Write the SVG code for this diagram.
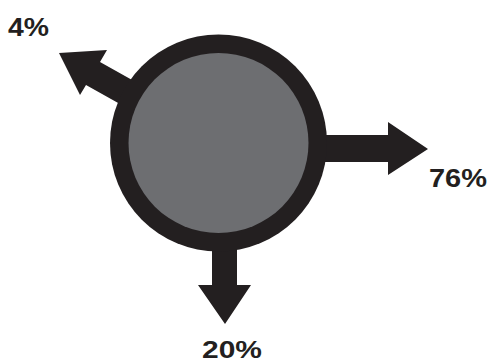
<svg xmlns="http://www.w3.org/2000/svg" width="491" height="363" viewBox="0 0 491 363">
<style>
.dk{fill:#231f20}
.lbl{font-family:"Liberation Sans",Arial,sans-serif;font-weight:bold;font-size:26px;fill:#231f20}
</style>
<rect width="491" height="363" fill="#ffffff"/>
<g id="connectors">
<polygon class="dk" points="59,53 107,50 100,62 150,90 136,113 86,85 80,95"/>
<polygon class="dk" points="300,135 388,135 388,122 428,149 388,175 388,162 300,162"/>
<polygon class="dk" points="212,230 237,230 237,285 251,285 225,324 198,285 212,285"/>
</g>
<g id="node-circle">
<circle class="dk" cx="218.5" cy="143" r="108.5"/>
<circle cx="218.5" cy="143" r="90" fill="#6d6e71"/>
</g>
<g id="label-4">
<text class="lbl" x="8" y="36" textLength="41" lengthAdjust="spacingAndGlyphs">4%</text>
</g>
<g id="label-76">
<text class="lbl" x="429" y="187" textLength="58" lengthAdjust="spacingAndGlyphs">76%</text>
</g>
<g id="label-20">
<text class="lbl" x="202" y="357.5" style="font-size:24px" textLength="60" lengthAdjust="spacingAndGlyphs">20%</text>
</g>
</svg>
